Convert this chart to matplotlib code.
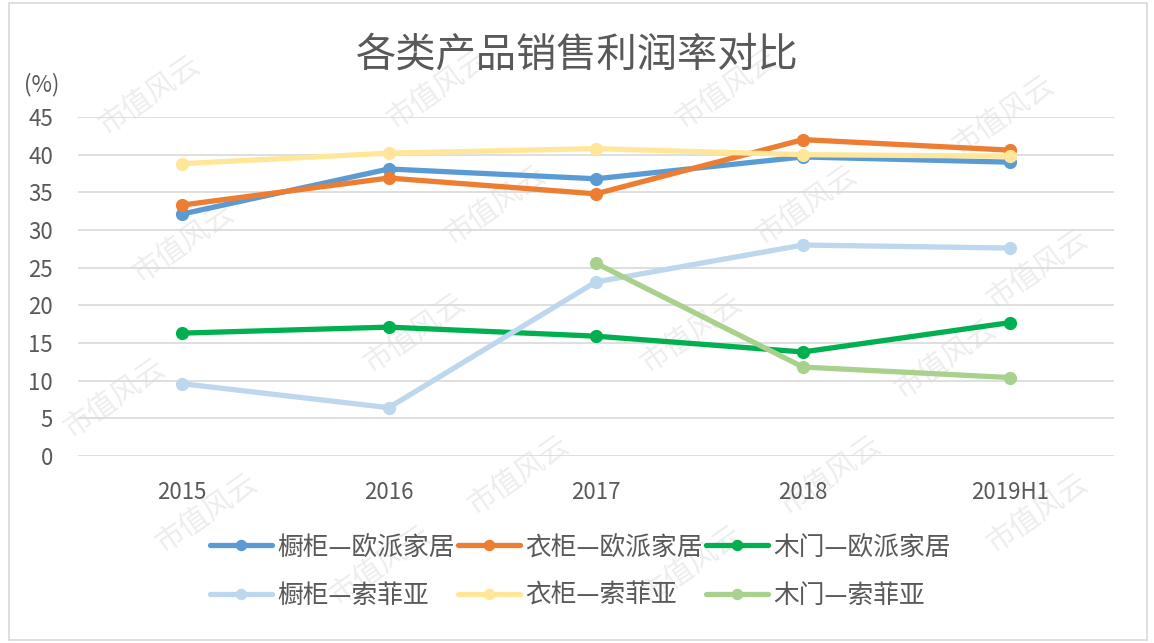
import matplotlib
matplotlib.use("Agg")
import matplotlib.pyplot as plt
from matplotlib.patches import Rectangle

plt.rcParams['font.family'] = ['Noto Sans CJK SC', 'DejaVu Sans']

categories = ["2015", "2016", "2017", "2018", "2019H1"]
cabinet_oppein = [32.1, 38.1, 36.8, 39.7, 39.0]
wardrobe_oppein = [33.3, 36.9, 34.8, 42.0, 40.6]
door_oppein = [16.3, 17.1, 15.9, 13.8, 17.7]
cabinet_sofia = [9.6, 6.4, 23.1, 28.0, 27.6]
wardrobe_sofia = [38.8, 40.2, 40.8, 40.0, 39.8]
door_sofia = [None, None, 25.6, 11.8, 10.4]

series = [
    ("橱柜—欧派家居", cabinet_oppein, "#5b9bd5"),
    ("衣柜—欧派家居", wardrobe_oppein, "#ed7d31"),
    ("木门—欧派家居", door_oppein, "#00b050"),
    ("橱柜—索菲亚", cabinet_sofia, "#bdd7ee"),
    ("衣柜—索菲亚", wardrobe_sofia, "#ffe699"),
    ("木门—索菲亚", door_sofia, "#a9d18e"),
]

fig = plt.figure(figsize=(11.54, 6.43), dpi=100)

# watermarks (behind the chart)
wm = [(0.13, 0.85), (0.38, 0.86), (0.63, 0.86), (0.87, 0.82),
      (0.16, 0.62), (0.43, 0.68), (0.7, 0.68), (0.9, 0.58),
      (0.1, 0.38), (0.36, 0.48), (0.6, 0.48), (0.82, 0.44),
      (0.18, 0.2), (0.45, 0.26), (0.72, 0.26), (0.9, 0.2),
      (0.33, 0.12), (0.6, 0.12)]
for wx, wy in wm:
    fig.text(wx, wy, "市值风云", fontsize=21, color='#ededed', rotation=35,
             fontweight='light', ha='center', va='center', zorder=-5)

ax = fig.add_axes([0.0676, 0.291, 0.8974, 0.527])
ax.patch.set_alpha(0)

x = list(range(len(categories)))
handles = []
for name, vals, col in series:
    xs = [xi for xi, v in zip(x, vals) if v is not None]
    ys = [v for v in vals if v is not None]
    h, = ax.plot(xs, ys, color=col, lw=3.8, marker='o', ms=8.5, label=name,
                 solid_capstyle='round', solid_joinstyle='round')
    handles.append(h)

ax.set_xlim(-0.5, 4.5)
ax.set_ylim(0, 45)
ax.set_yticks(range(0, 46, 5))
ax.set_xticks(x)
ax.set_xticklabels(categories)
ax.grid(axis='y', color='#d9d9d9', lw=1.2)
ax.set_axisbelow(True)
for s in ax.spines.values():
    s.set_visible(False)
ax.tick_params(axis='both', length=0, colors='#595959', labelsize=16)
ax.tick_params(axis='y', pad=18)
ax.tick_params(axis='x', pad=18)

fig.text(0.036, 0.868, "(%)", fontsize=16, color='#595959', ha='center', va='center')
fig.text(0.5, 0.914, "各类产品销售利润率对比", fontsize=29, color='#595959',
         ha='center', va='center')

order = [0, 3, 1, 4, 2, 5]
leg = fig.legend([handles[i] for i in order], [series[i][0] for i in order],
                 loc='center', bbox_to_anchor=(0.503, 0.111), ncol=3, frameon=False,
                 fontsize=18.5, handlelength=2.4, handletextpad=0.2, columnspacing=0.15,
                 labelspacing=0.87, markerscale=0.85)
for t in leg.get_texts():
    t.set_color('#595959')

fig.patches.append(Rectangle((0.0078, 0.004), 0.986, 0.992, transform=fig.transFigure,
                             fill=False, edgecolor='#d9d9d9', lw=1.2))

fig.savefig("out.png", dpi=100)
